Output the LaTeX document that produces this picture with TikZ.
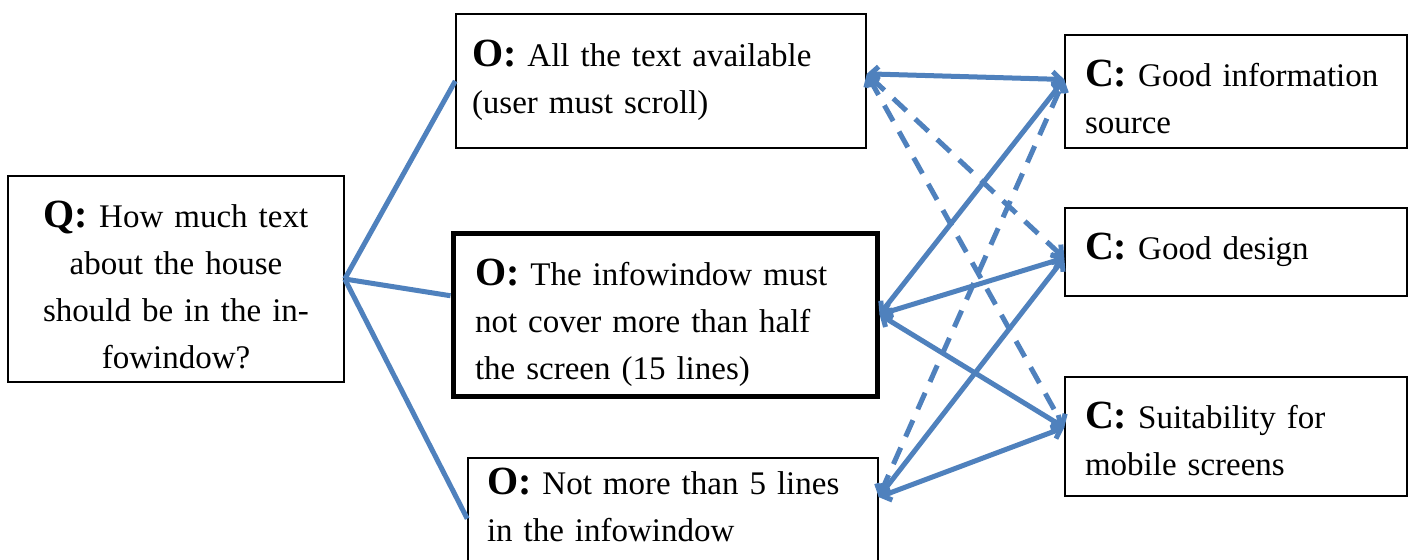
\documentclass[tikz,border=0pt]{standalone}
\usepackage{fontspec}
\setmainfont{Liberation Serif}
\usetikzlibrary{arrows.meta}
\definecolor{lineblue}{HTML}{4F81BD}
\newcommand\mylbl[1]{{\fontsize{20}{23.5}\selectfont\bfseries #1}}
\begin{document}
\begin{tikzpicture}[x=0.5pt,y=-0.5pt,
  box/.style={draw=black, line width=0.75pt, inner sep=0pt},
  heavybox/.style={box, line width=2.5pt},
  txt/.style={inner sep=0pt, align=left, font=\fontsize{16.5}{23.5}\selectfont},
  link/.style={draw=lineblue, line width=2.5pt},
  arrowlink/.style={link, {Straight Barb[length=4pt,width=7.5pt]}-{Straight Barb[length=4pt,width=7.5pt]}},
  dashlink/.style={arrowlink, dash pattern=on 9pt off 6pt}]
\useasboundingbox (0,0) rectangle (1411,559);
\fill[white] (0,0) rectangle (1411,559);
% boxes
\node[box, minimum width=168pt, minimum height=103pt] (Q) at (176,279) {};
\node[box, minimum width=205pt, minimum height=67pt] (O1) at (661,81) {};
\node[heavybox, minimum width=212pt, minimum height=81.5pt] (O2) at (665,314.5) {};
\node[box, minimum width=205pt, minimum height=53.5pt] (O3) at (673,511.5) {};
\node[box, minimum width=171pt, minimum height=56.5pt] (C1) at (1236,91.5) {};
\node[box, minimum width=171pt, minimum height=44pt] (C2) at (1236,252) {};
\node[box, minimum width=171pt, minimum height=59.5pt] (C3) at (1236,436.5) {};
% texts
\node[txt, align=center, text width=160pt, yshift=-3pt] (Qt) at (Q)
  {\mylbl{Q:} How much text\\about the house\\should be in the in-\\fowindow?};
\node[txt, text width=189pt, xshift=0pt, yshift=0.5pt] (O1t) at (O1)
  {\mylbl{O:} All the text available\\(user must scroll)};
\node[txt, text width=192pt, xshift=1pt, yshift=-4pt] (O2t) at (O2)
  {\mylbl{O:} The infowindow must\\not cover more than half\\the screen (15 lines)};
\node[txt, text width=185pt, xshift=-0.5pt, yshift=3.5pt] (O3t) at (O3)
  {\mylbl{O:} Not more than 5 lines\\in the infowindow};
\node[txt, text width=151pt, xshift=0pt, yshift=-2.5pt] (C1t) at (C1)
  {\mylbl{C:} Good information\\source};
\node[txt, text width=151pt, xshift=0pt, yshift=1pt] (C2t) at (C2)
  {\mylbl{C:} Good design};
\node[txt, text width=151pt, xshift=0pt, yshift=-1pt] (C3t) at (C3)
  {\mylbl{C:} Suitability for\\mobile screens};
% question to options
\draw[link] (Q.east) -- (O1.west);
\draw[link] (Q.east) -- (O2.175);
\draw[link] (Q.east) -- (O3.182);
% options to criteria
\draw[arrowlink] (O1.2) -- (C1.176);
\draw[dashlink] (O1.2) -- (C2.182);
\draw[dashlink] (O1.2) -- (C3.177);
\draw[arrowlink] (O2.east) -- (C1.176);
\draw[arrowlink] (O2.east) -- (C2.182);
\draw[arrowlink] (O2.east) -- (C3.177);
\draw[dashlink] (O3.4) -- (C1.176);
\draw[arrowlink] (O3.4) -- (C2.182);
\draw[arrowlink] (O3.4) -- (C3.177);
\end{tikzpicture}
\end{document}
